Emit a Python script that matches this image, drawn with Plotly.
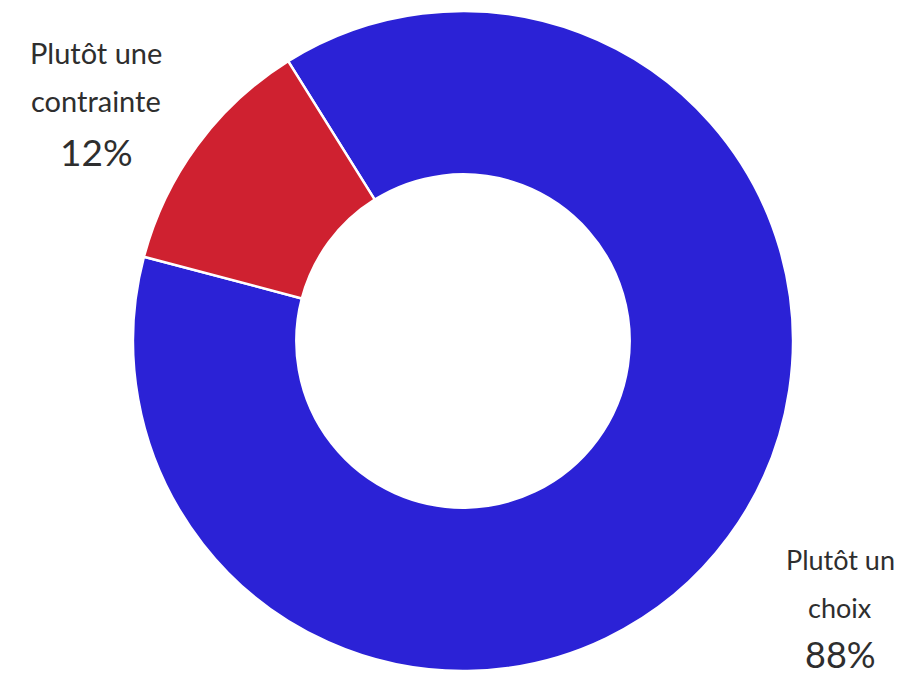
import plotly.graph_objects as go

categories = ["Plutôt un choix", "Plutôt une contrainte"]
values = [88, 12]
colors = ["#2b22d6", "#cf2130"]

W, H = 905, 676
fig = go.Figure(go.Pie(
    labels=categories, values=values, hole=0.505, sort=False,
    direction="clockwise", rotation=-32,
    marker=dict(colors=colors, line=dict(color="white", width=2.5)),
    textinfo="none", hoverinfo="label+percent", showlegend=False,
    domain=dict(x=[125/W, 785/W], y=[13/H, 673/H]),
))

font = "Lato, 'Open Sans', sans-serif"
def ann(x, y, text, size):
    fig.add_annotation(x=x/W, y=1-y/H, xref="paper", yref="paper", text=text,
                       showarrow=False, xanchor="center", yanchor="middle",
                       borderpad=0,
                       font=dict(family=font, size=size, color="#2e2e2e"))

lab = {c: f"{v}%" for c, v in zip(categories, values)}
ann(88, 44, "Plutôt une", 29)
ann(88, 93, "contrainte", 29)
ann(88, 143, lab["Plutôt une contrainte"], 37)
ann(832, 551, "Plutôt un", 27)
ann(832, 599, "choix", 27)
ann(832, 646, lab["Plutôt un choix"], 36)

fig.update_layout(width=W, height=H, margin=dict(l=0, r=0, t=0, b=0),
                  paper_bgcolor="white", plot_bgcolor="white")
fig.write_html("out.html")
